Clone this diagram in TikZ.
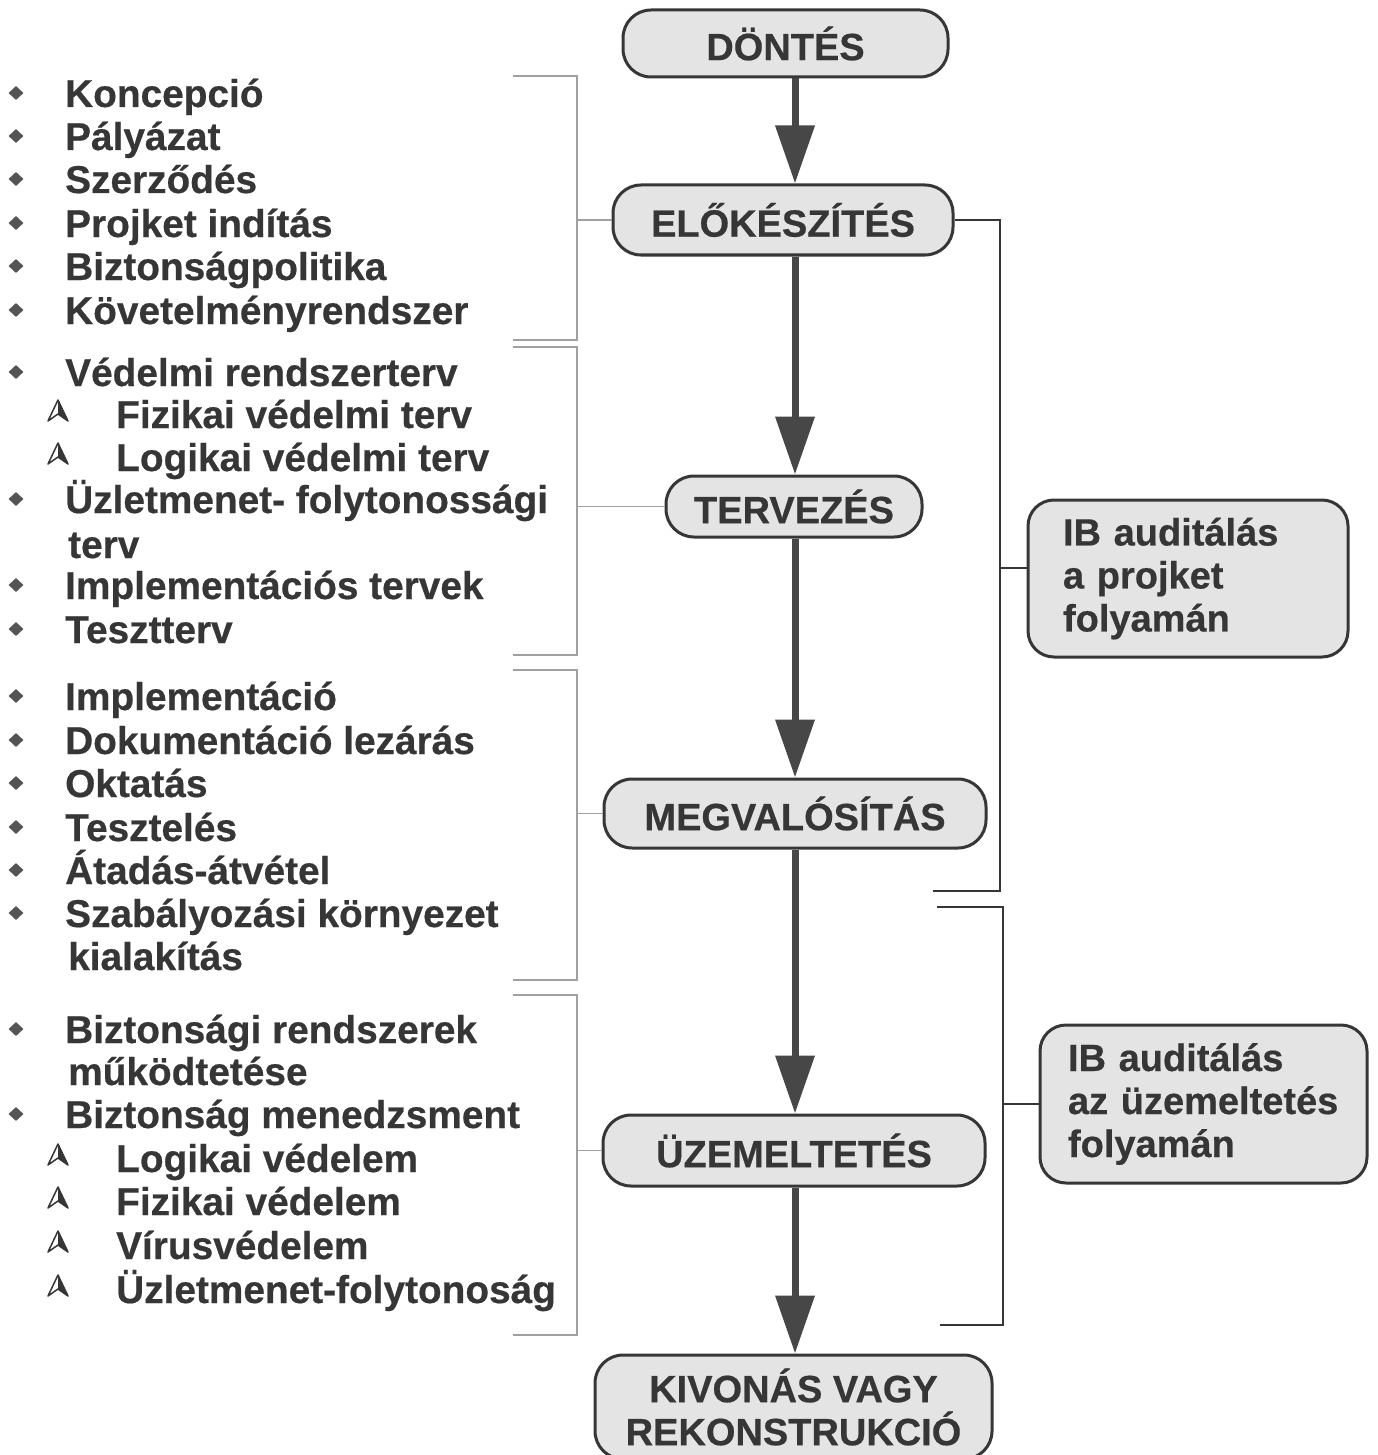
\documentclass[tikz,border=0pt]{standalone}
\usepackage{fontspec}
\setmainfont{Liberation Sans}[BoldFeatures={FakeBold=0.5}]
\usetikzlibrary{arrows.meta,shapes.geometric}

\definecolor{ink}{HTML}{363636}
\definecolor{boxfill}{HTML}{E4E4E4}
\definecolor{arrowgray}{HTML}{474747}
\definecolor{thingray}{HTML}{A0A0A0}

\tikzset{
  every node/.style={font=\bfseries\fontsize{38}{43}\selectfont, text=ink},
  phase/.style={draw=ink, line width=3pt, fill=boxfill, rounded corners=28pt,
                inner sep=0pt, align=center},
  audit/.style={draw=ink, line width=3pt, fill=boxfill, rounded corners=26pt,
                inner sep=0pt, align=left},
  flow/.style={draw=arrowgray, line width=7pt,
               -{Triangle[width=38pt,length=58pt]}},
  phasebracket/.style={draw=ink, line width=2pt},
  listbracket/.style={draw=thingray, line width=1.2pt},
  item/.style={anchor=base west, inner sep=0pt,
               font=\bfseries\fontsize{38.8}{43}\selectfont},
  dot/.style={diamond, fill=ink!85, draw=none, inner sep=0pt,
              minimum width=15pt, minimum height=14pt},
  subarrow/.pic={
    \draw[ink, line width=1.5pt, line join=round]
      (0,-11) -- (-10,10) -- (0,3) -- (10,10) -- cycle;
    \fill[ink] (0,-11) -- (0,3) -- (10,10) -- cycle;
  },
}

\begin{document}
\begin{tikzpicture}[x=1pt,y=-1pt]
  \useasboundingbox (0,0) rectangle (1377,1455);
  \clip (0,0) rectangle (1377,1455);
  \fill[white] (0,0) rectangle (1377,1455);

  % phase boxes of the life cycle
  \node[phase, minimum width=325pt, minimum height=67pt] (dontes) at (785.5,43.5) {DÖNTÉS};
  \node[phase, minimum width=340pt, minimum height=70pt] (elo) at (783,220) {ELŐKÉSZÍTÉS};
  \node[phase, minimum width=256pt, minimum height=61pt] (terv) at (794,506.5) {TERVEZÉS};
  \node[phase, minimum width=382pt, minimum height=69pt] (megv) at (795,813.5) {MEGVALÓSÍTÁS};
  \node[phase, minimum width=382pt, minimum height=71pt] (uzem) at (794,1150.5) {ÜZEMELTETÉS};
  \node[phase, minimum width=397pt, minimum height=104pt] (kivon) at (793.5,1407) {KIVONÁS VAGY\\REKONSTRUKCIÓ};

  % audit boxes
  \node[audit, minimum width=320pt, minimum height=157pt, text width=250pt] (ib1) at (1188,578.5)
    {IB auditálás\\a projket\\folyamán};
  \node[audit, minimum width=327pt, minimum height=158pt, text width=271pt] (ib2) at (1203.5,1104)
    {IB auditálás\\\mbox{az üzemeltetés}\\folyamán};

  % main flow
  \coordinate (ax) at (795,0);
  \draw[flow] (dontes.south -| ax) -- (elo.north -| ax);
  \draw[flow] (elo.south -| ax) -- (terv.north -| ax);
  \draw[flow] (terv.south -| ax) -- (megv.north -| ax);
  \draw[flow] (megv.south -| ax) -- (uzem.north -| ax);
  \draw[flow] (uzem.south -| ax) -- (kivon.north -| ax);

  % right brackets to the audit boxes
  \coordinate (r1x) at (1000,0);
  \coordinate (r1end) at (933,891);
  \draw[phasebracket] (elo.east) -- (elo.east -| r1x) |- (r1end);
  \draw[phasebracket] ([yshift=11pt]ib1.west -| r1x) -- ([yshift=11pt]ib1.west);

  \coordinate (r2x) at (1003,0);
  \coordinate (r2top) at (937,907);
  \coordinate (r2end) at (940,1325);
  \draw[phasebracket] (r2top) -| (r2end -| r2x) -- (r2end);
  \draw[phasebracket] (ib2.west -| r2x) -- (ib2.west);

  % left brackets grouping the activity lists
  \coordinate (lx) at (577,0);
  \coordinate (la1) at (513,76);   \coordinate (la2) at (513,340);
  \coordinate (lb1) at (513,347);  \coordinate (lb2) at (513,655);
  \coordinate (lc1) at (513,670);  \coordinate (lc2) at (513,980);
  \coordinate (ld1) at (513,995);  \coordinate (ld2) at (513,1335);
  \draw[listbracket] (la1) -| (la2 -| lx) -- (la2);
  \draw[listbracket] (lb1) -| (lb2 -| lx) -- (lb2);
  \draw[listbracket] (lc1) -| (lc2 -| lx) -- (lc2);
  \draw[listbracket] (ld1) -| (ld2 -| lx) -- (ld2);
  \draw[listbracket] (elo.west -| lx) -- (elo.west);
  \draw[listbracket] (terv.west -| lx) -- (terv.west);
  \draw[listbracket] (megv.west -| lx) -- (megv.west);
  \draw[listbracket] (uzem.west -| lx) -- (uzem.west);

  % bulleted activities
  \foreach \nm/\y/\t in {
      1/94/Koncepció, 2/137/Pályázat, 3/180/Szerződés, 4/224/Projket indítás,
      5/267/Biztonságpolitika, 6/311/Követelményrendszer,
      7/373/Védelmi rendszerterv, 8/500/Üzletmenet- folytonossági,
      9/586/Implementációs tervek, 10/630/Tesztterv,
      11/697/Implementáció, 12/741/Dokumentáció lezárás, 13/784/Oktatás,
      14/828/Tesztelés, 15/871/Átadás-átvétel, 16/914/Szabályozási környezet,
      17/1030/Biztonsági rendszerek, 18/1115/Biztonság menedzsment}{
    \node[dot] (dot\nm) at (16,\y-1) {};
    \node[item] (item\nm) at (65,\y+13) {\t};
  }

  % sub-items with arrowhead markers
  \foreach \nm/\y/\t in {
      1/415/Fizikai védelmi terv, 2/458/Logikai védelmi terv,
      3/1159/Logikai védelem, 4/1202/Fizikai védelem,
      5/1246/Vírusvédelem, 6/1290/Üzletmenet-folytonoság}{
    \pic (mark\nm) at (58,\y-4) {subarrow};
    \node[item] (sub\nm) at (116,\y+13) {\t};
  }

  % wrapped continuation lines
  \foreach \nm/\y/\t in {1/545/terv, 2/957/kialakítás, 3/1072/működtetése}{
    \node[item] (cont\nm) at (68,\y+13) {\t};
  }
\end{tikzpicture}
\end{document}
